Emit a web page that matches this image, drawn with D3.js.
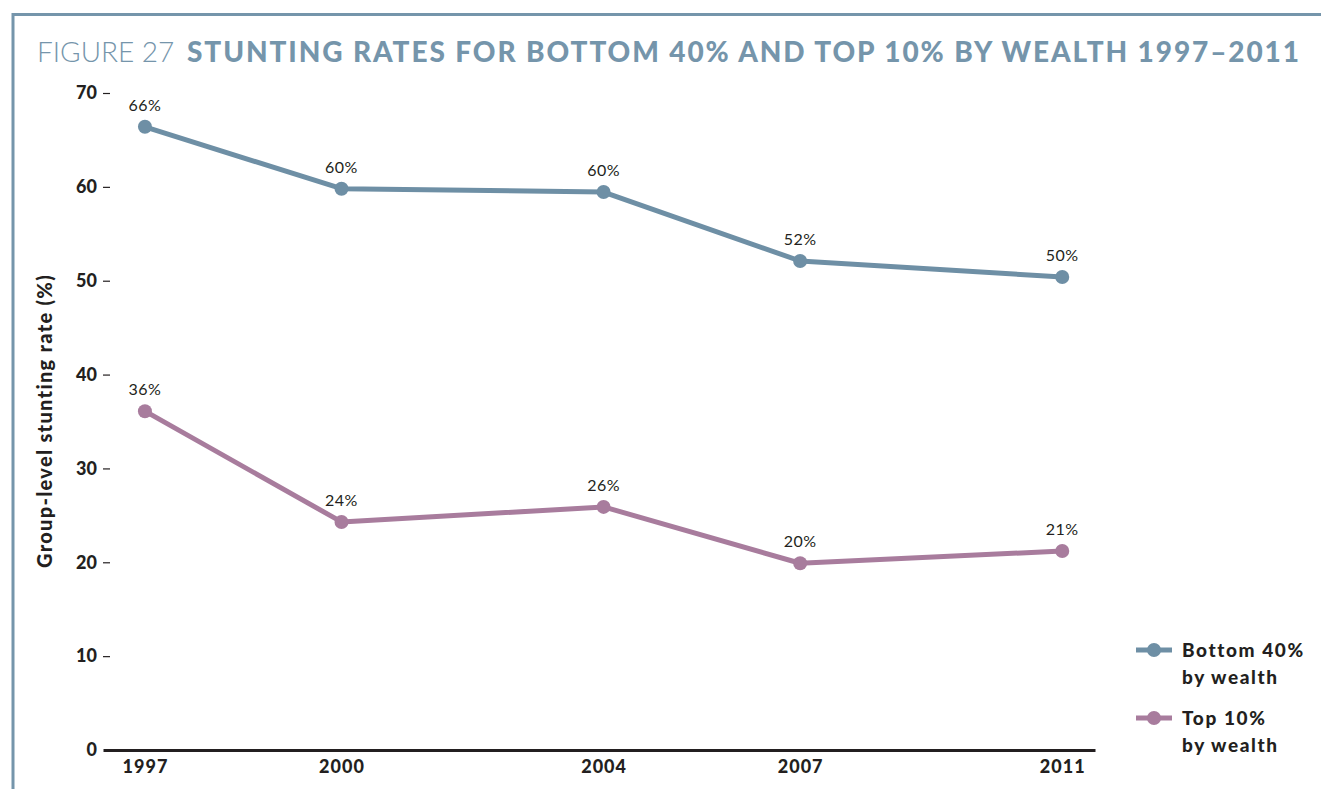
<!DOCTYPE html>
<html>
<head>
<meta charset="utf-8">
<script src="https://cdn.jsdelivr.net/npm/d3@7"></script>
<style>
  body { margin: 0; background: #fff; }
  svg { display: block; font-family: Lato, "Open Sans", sans-serif; }
</style>
</head>
<body>
<div id="chart"></div>
<script>
// Figure 27 - stunting rates by wealth group

var years = [1997, 2000, 2004, 2007, 2011];
var bottom40 = [66.4, 59.8, 59.45, 52.1, 50.4];
var top10 = [36.1, 24.3, 25.9, 19.9, 21.2];
var bottom40Labels = ["66%", "60%", "60%", "52%", "50%"];
var top10Labels = ["36%", "24%", "26%", "20%", "21%"];
var yTicks = [0, 10, 20, 30, 40, 50, 60, 70];

var svgWidth = 1321;
var svgHeight = 789;

var blue = "#6e8fa5";
var pink = "#a87c9d";

var svg = d3.select("#chart")
  .append("svg")
  .attr("width", svgWidth)
  .attr("height", svgHeight);

// frame (top and left rule)
svg.append("path")
  .attr("d", "M13,789 V14.5 H1321")
  .attr("fill", "none")
  .attr("stroke", "#7595ab")
  .attr("stroke-width", 3);

// title
var title = svg.append("text")
  .attr("x", 37)
  .attr("y", 62)
  .attr("fill", "#7595ab")
  .attr("font-size", 28);
title.append("tspan").attr("font-weight", 300).text("FIGURE 27");
title.append("tspan").attr("font-weight", 900)
  .attr("x", 187)
  .attr("letter-spacing", 1.9)
  .text("STUNTING RATES FOR BOTTOM 40% AND TOP 10% BY WEALTH 1997–2011");

// scales
var x = d3.scaleLinear()
  .domain([1996.36, 2011.5])
  .range([103, 1095]);

var y = d3.scaleLinear()
  .domain([0, 70])
  .range([750, 93]);

// y axis: labels + short dashes
var yAxis = svg.append("g").attr("transform", "translate(103,0)");
yAxis.call(d3.axisLeft(y).tickValues(yTicks).tickSize(0).tickPadding(6));
yAxis.select(".domain").remove();
yAxis.selectAll(".tick text")
  .attr("font-family", "Lato, sans-serif")
  .attr("font-size", 18)
  .attr("font-weight", 900)
  .attr("fill", "#231f20");
yAxis.selectAll(".tick")
  .filter(d => d > 0)
  .append("line")
  .attr("x1", 0).attr("x2", 7)
  .attr("stroke", "#231f20")
  .attr("stroke-width", 1.2);

// x axis
var xAxis = svg.append("g").attr("transform", "translate(0,750)");
xAxis.call(d3.axisBottom(x).tickValues(years).tickFormat(d3.format("d")).tickSize(0).tickPadding(10));
xAxis.select(".domain")
  .attr("stroke", "#231f20")
  .attr("stroke-width", 3);
xAxis.selectAll(".tick text")
  .attr("font-family", "Lato, sans-serif")
  .attr("font-size", 18)
  .attr("font-weight", 900)
  .attr("letter-spacing", 1)
  .attr("fill", "#231f20");

// y axis title
svg.append("text")
  .attr("transform", "translate(52,421) rotate(-90)")
  .attr("text-anchor", "middle")
  .attr("font-size", 20)
  .attr("font-weight", 900)
  .attr("letter-spacing", 1.3)
  .attr("fill", "#231f20")
  .text("Group-level stunting rate (%)");

// series
var series = [
  {values: bottom40, labels: bottom40Labels, color: blue},
  {values: top10, labels: top10Labels, color: pink}
];

var line = d3.line()
  .x((d, i) => x(years[i]))
  .y(d => y(d));

series.forEach(function(s) {
  svg.append("path")
    .datum(s.values)
    .attr("fill", "none")
    .attr("stroke", s.color)
    .attr("stroke-width", 5)
    .attr("stroke-linejoin", "round")
    .attr("d", line);

  svg.selectAll(null)
    .data(s.values)
    .enter()
    .append("circle")
    .attr("cx", (d, i) => x(years[i]))
    .attr("cy", d => y(d))
    .attr("r", 7)
    .attr("fill", s.color);

  svg.selectAll(null)
    .data(s.values)
    .enter()
    .append("text")
    .attr("x", (d, i) => x(years[i]))
    .attr("y", d => y(d) - 16)
    .attr("text-anchor", "middle")
    .attr("font-size", 16)
    .attr("letter-spacing", 0.5)
    .attr("fill", "#231f20")
    .text((d, i) => s.labels[i]);
});

// legend
var legendItems = [
  {lines: ["Bottom 40%", "by wealth"], color: blue, y: 650},
  {lines: ["Top 10%", "by wealth"], color: pink, y: 718}
];

var legend = svg.append("g");
legendItems.forEach(function(item) {
  legend.append("line")
    .attr("x1", 1136).attr("x2", 1172)
    .attr("y1", item.y).attr("y2", item.y)
    .attr("stroke", item.color)
    .attr("stroke-width", 5);
  legend.append("circle")
    .attr("cx", 1154).attr("cy", item.y)
    .attr("r", 7)
    .attr("fill", item.color);
  item.lines.forEach(function(t, i) {
    legend.append("text")
      .attr("x", 1182)
      .attr("y", item.y + 7 + i * 27)
      .attr("font-size", 19)
      .attr("font-weight", 900)
      .attr("letter-spacing", 1.6)
      .attr("fill", "#231f20")
      .text(t);
  });
});
</script>
</body>
</html>
